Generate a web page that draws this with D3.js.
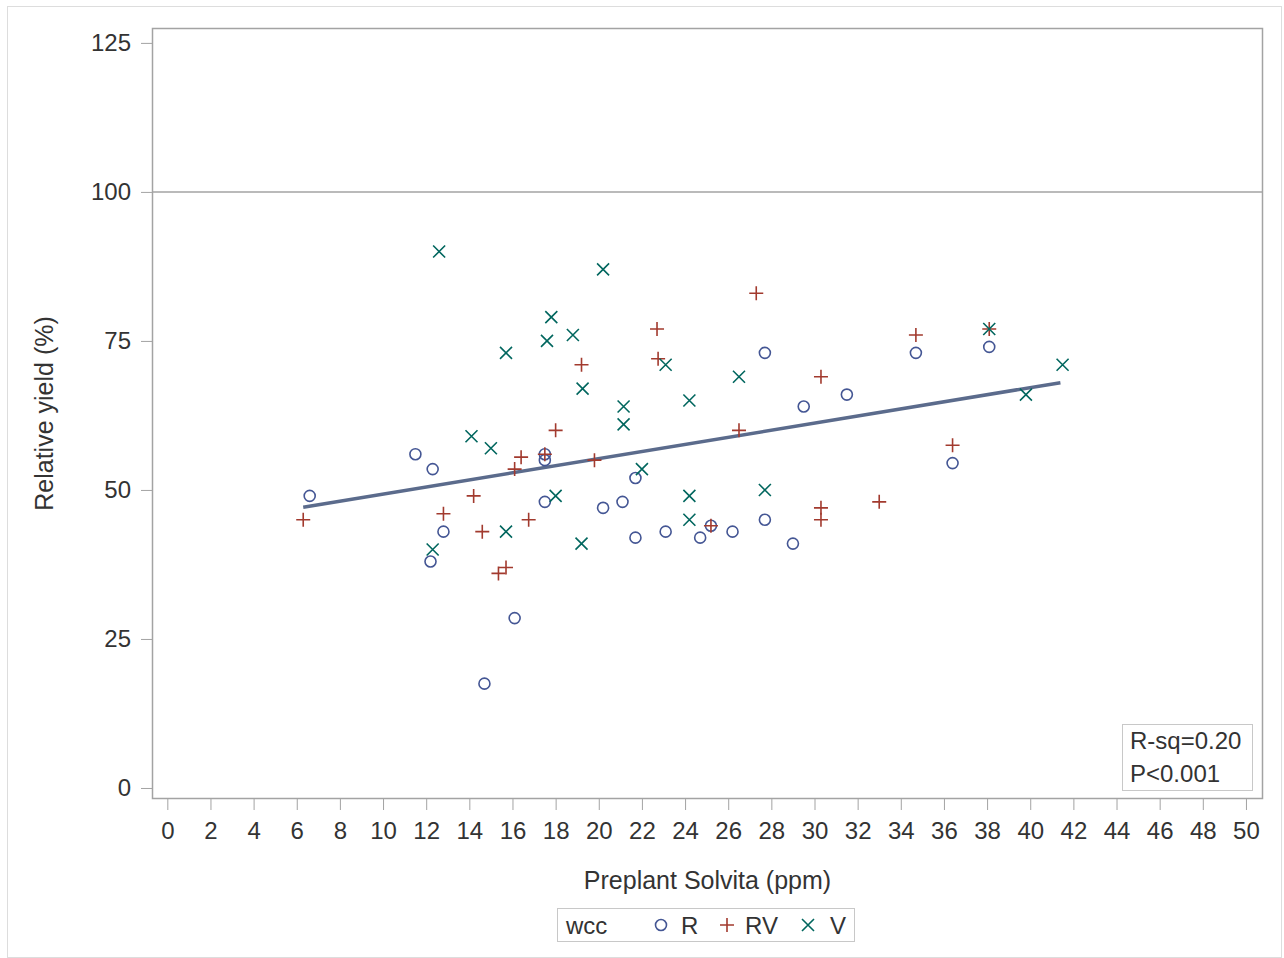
<!DOCTYPE html>
<html>
<head>
<meta charset="utf-8">
<script src="https://cdn.jsdelivr.net/npm/d3@7"></script>
<style>
  body { margin: 0; background: #fff; }
  svg { font-family: "Liberation Sans", Arial, sans-serif; }
</style>
</head>
<body>
<div id="chart"></div>
<script>
// values
var groups = ["R", "RV", "V"];
var xTicks = d3.range(0, 51, 2);
var yTicks = [0, 25, 50, 75, 100, 125];
var refLineY = 100;
var rData = [[6.6,49],[11.5,56],[12.3,53.5],[12.8,43],[12.2,38],[16.1,28.5],[14.7,17.5],[17.5,56],[17.5,55],[17.5,48],
  [20.2,47],[21.1,48],[21.7,52],[21.7,42],[23.1,43],[24.7,42],[25.2,44],[26.2,43],[27.7,45],[27.7,73],[29.0,41],
  [29.5,64],[31.5,66],[34.7,73],[36.4,54.5],[38.1,74]];
var rvData = [[6.3,45],[12.8,46],[14.2,49],[14.6,43],[15.35,36],[15.7,37],[16.1,53.5],[16.4,55.5],[16.75,45],[17.5,56],
  [18.0,60],[19.2,71],[19.8,55],[22.7,77],[22.75,72],[25.2,44],[26.5,60],[27.3,83],[30.3,69],[30.3,47],[30.3,45],
  [33.0,48],[34.7,76],[36.4,57.5],[38.1,77]];
var vData = [[12.6,90],[20.2,87],[17.8,79],[17.6,75],[18.8,76],[15.7,73],[19.25,67],[21.15,64],[21.15,61],[14.1,59],
  [15.0,57],[12.3,40],[15.7,43],[18.0,49],[19.2,41],[22.0,53.5],[23.1,71],[24.2,65],[24.2,49],[24.2,45],[26.5,69],
  [27.7,50],[38.1,77],[39.8,66],[41.5,71]];
var fitX = [6.3, 41.4];
var fitY = [47.1, 68.0];
var statLines = ["R-sq=0.20", "P<0.001"];

var W = 1284, H = 958;
var frame = {left: 152, right: 1263, top: 28, bottom: 799};
var colors = {R: "#445694", RV: "#A23A2E", V: "#01665E"};
var frameColor = "#a3a3a3";
var textColor = "#333";

var svg = d3.select("#chart").append("svg").attr("width", W).attr("height", H);

// outer border
svg.append("rect").attr("x", 7.5).attr("y", 6.5).attr("width", 1274).attr("height", 951)
  .attr("fill", "none").attr("stroke", "#ddd");

var x = d3.scaleLinear().domain([-0.71, 50.79]).range([frame.left, frame.right]);
var y = d3.scaleLinear().domain([-1.85, 127.5]).range([frame.bottom, frame.top]);

// axes
var xAxis = svg.append("g").attr("transform", "translate(0," + frame.bottom + ")")
  .call(d3.axisBottom(x).tickValues(xTicks).tickSize(11).tickPadding(12).tickSizeOuter(0));
var yAxis = svg.append("g").attr("transform", "translate(" + frame.left + ",0)")
  .call(d3.axisLeft(y).tickValues(yTicks).tickSize(11).tickPadding(10).tickSizeOuter(0));
[xAxis, yAxis].forEach(function(a) {
  a.select(".domain").remove();
  a.selectAll(".tick line").attr("stroke", frameColor);
  a.selectAll(".tick text").attr("fill", textColor).style("font-size", "24px");
});
xAxis.selectAll(".tick text").attr("dy", "0.71em");

// frame
svg.append("rect").attr("x", frame.left + 0.5).attr("y", frame.top + 0.5)
  .attr("width", frame.right - frame.left - 1).attr("height", frame.bottom - frame.top - 1)
  .attr("fill", "none").attr("stroke", frameColor).attr("stroke-width", 1.5);

// reference line at 100
svg.append("line").attr("x1", frame.left).attr("x2", frame.right)
  .attr("y1", y(refLineY)).attr("y2", y(refLineY))
  .attr("stroke", frameColor).attr("stroke-width", 1.5);

// axis labels
svg.append("text").attr("x", (frame.left + frame.right) / 2).attr("y", 889)
  .attr("text-anchor", "middle").attr("fill", textColor).style("font-size", "25px")
  .text("Preplant Solvita (ppm)");
svg.append("text").attr("transform", "translate(53," + (frame.top + frame.bottom) / 2 + ") rotate(-90)")
  .attr("text-anchor", "middle").attr("fill", textColor).style("font-size", "25px")
  .text("Relative yield (%)");

// fit line
svg.append("line")
  .attr("x1", x(fitX[0])).attr("y1", y(fitY[0]))
  .attr("x2", x(fitX[1])).attr("y2", y(fitY[1]))
  .attr("stroke", "#5b6b8c").attr("stroke-width", 3.5);

function drawMarker(g, type, cx, cy, col) {
  if (type === "R") {
    g.append("circle").attr("cx", cx).attr("cy", cy).attr("r", 5.5)
      .attr("fill", "none").attr("stroke", col).attr("stroke-width", 1.6);
  } else if (type === "RV") {
    g.append("path").attr("d", "M" + (cx - 7) + "," + cy + "H" + (cx + 7) + "M" + cx + "," + (cy - 7) + "V" + (cy + 7))
      .attr("stroke", col).attr("stroke-width", 1.6).attr("fill", "none");
  } else {
    var s = 6;
    g.append("path").attr("d", "M" + (cx - s) + "," + (cy - s) + "L" + (cx + s) + "," + (cy + s) +
      "M" + (cx - s) + "," + (cy + s) + "L" + (cx + s) + "," + (cy - s))
      .attr("stroke", col).attr("stroke-width", 1.6).attr("fill", "none");
  }
}

var seriesData = {R: rData, RV: rvData, V: vData};
groups.forEach(function(gname) {
  var g = svg.append("g").attr("class", "series-" + gname);
  seriesData[gname].forEach(function(d) {
    drawMarker(g, gname, x(d[0]), y(d[1]), colors[gname]);
  });
});

// stats inset
var inset = svg.append("g");
inset.append("rect").attr("x", 1122.5).attr("y", 724.5).attr("width", 130).attr("height", 66)
  .attr("fill", "#fff").attr("stroke", "#c8c8c8");
statLines.forEach(function(t, i) {
  inset.append("text").attr("x", 1130).attr("y", 749 + i * 33)
    .attr("fill", textColor).style("font-size", "24px").text(t);
});

// legend
var leg = svg.append("g");
leg.append("rect").attr("x", 557.5).attr("y", 908.5).attr("width", 297).attr("height", 33)
  .attr("fill", "#fff").attr("stroke", "#c8c8c8");
leg.append("text").attr("x", 566).attr("y", 934).attr("fill", textColor).style("font-size", "24px").text("wcc");
var legPos = {R: [661, 681], RV: [727, 745], V: [808, 830]};
groups.forEach(function(gname) {
  drawMarker(leg, gname, legPos[gname][0], 925, colors[gname]);
  leg.append("text").attr("x", legPos[gname][1]).attr("y", 934).attr("fill", textColor)
    .style("font-size", "24px").text(gname);
});
</script>
</body>
</html>
